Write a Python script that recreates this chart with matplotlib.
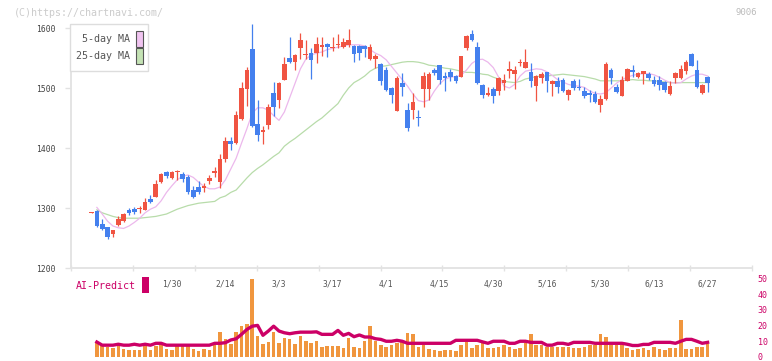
import matplotlib
matplotlib.use('Agg')
import matplotlib.pyplot as plt
from matplotlib.patches import Rectangle
import numpy as np

plt.rcParams['font.family'] = ['DejaVu Sans Mono']

# 日足データ (始値, 高値, 安値, 終値)
opens = [1292, 1295, 1273, 1268, 1256, 1272, 1279, 1297, 1298, 1299,
         1297, 1315, 1319, 1343, 1360, 1350, 1360, 1357, 1351, 1330,
         1335, 1333, 1345, 1359, 1344, 1381, 1412, 1409, 1448, 1498,
         1565, 1440, 1426, 1438, 1492, 1480, 1513, 1550, 1544, 1567,
         1555, 1559, 1558, 1569, 1573, 1567, 1571, 1569, 1572, 1570,
         1570, 1570, 1548, 1549, 1540, 1530, 1500, 1462, 1509, 1463,
         1463, 1451, 1498, 1498, 1530, 1538, 1520, 1526, 1520, 1519,
         1566, 1590, 1568, 1505, 1488, 1498, 1495, 1509, 1529, 1523,
         1542, 1534, 1526, 1504, 1516, 1526, 1507, 1512, 1513, 1488,
         1511, 1501, 1495, 1491, 1490, 1471, 1482, 1530, 1502, 1486,
         1512, 1530, 1519, 1524, 1523, 1514, 1513, 1510, 1490, 1516,
         1516, 1529, 1557, 1530, 1491, 1519]
highs = [1293, 1296, 1281, 1269, 1264, 1286, 1292, 1300, 1302, 1304,
         1316, 1322, 1347, 1359, 1362, 1362, 1364, 1360, 1355, 1336,
         1345, 1342, 1355, 1369, 1390, 1418, 1419, 1462, 1510, 1535,
         1607, 1480, 1436, 1473, 1510, 1510, 1551, 1585, 1556, 1591,
         1580, 1566, 1585, 1585, 1575, 1585, 1590, 1584, 1598, 1571,
         1571, 1571, 1573, 1556, 1541, 1535, 1501, 1520, 1525, 1475,
         1491, 1463, 1527, 1527, 1534, 1539, 1527, 1531, 1522, 1554,
         1588, 1597, 1576, 1506, 1501, 1502, 1518, 1523, 1545, 1536,
         1548, 1565, 1542, 1521, 1527, 1527, 1513, 1519, 1516, 1498,
         1515, 1515, 1501, 1497, 1495, 1488, 1544, 1533, 1507, 1520,
         1534, 1538, 1527, 1529, 1526, 1520, 1520, 1511, 1511, 1526,
         1538, 1547, 1559, 1547, 1506, 1520]
lows = [1292, 1269, 1264, 1248, 1252, 1270, 1277, 1288, 1290, 1291,
        1296, 1309, 1318, 1342, 1350, 1349, 1346, 1344, 1323, 1316,
        1324, 1327, 1340, 1352, 1334, 1376, 1397, 1406, 1447, 1470,
        1435, 1411, 1407, 1431, 1453, 1466, 1513, 1542, 1530, 1549,
        1549, 1515, 1542, 1553, 1552, 1561, 1566, 1567, 1569, 1544,
        1546, 1551, 1547, 1534, 1505, 1495, 1475, 1462, 1487, 1429,
        1448, 1436, 1469, 1480, 1522, 1507, 1495, 1512, 1508, 1518,
        1563, 1578, 1507, 1484, 1486, 1475, 1488, 1497, 1516, 1499,
        1536, 1533, 1502, 1478, 1509, 1494, 1486, 1491, 1493, 1480,
        1497, 1497, 1484, 1476, 1475, 1460, 1480, 1507, 1492, 1486,
        1511, 1519, 1516, 1507, 1513, 1503, 1497, 1494, 1488, 1509,
        1515, 1523, 1536, 1500, 1490, 1494]
closes = [1293, 1270, 1265, 1251, 1263, 1282, 1290, 1291, 1293, 1300,
          1310, 1310, 1340, 1357, 1353, 1360, 1361, 1349, 1326, 1319,
          1326, 1337, 1350, 1362, 1382, 1412, 1406, 1455, 1500, 1530,
          1437, 1421, 1430, 1468, 1469, 1509, 1540, 1544, 1555, 1580,
          1557, 1547, 1574, 1571, 1568, 1569, 1572, 1576, 1580, 1557,
          1558, 1565, 1568, 1553, 1512, 1496, 1489, 1517, 1502, 1434,
          1477, 1450, 1520, 1524, 1525, 1513, 1516, 1518, 1512, 1553,
          1587, 1580, 1509, 1488, 1491, 1486, 1516, 1513, 1531, 1530,
          1543, 1543, 1512, 1520, 1523, 1512, 1511, 1501, 1495, 1497,
          1500, 1500, 1486, 1489, 1476, 1481, 1540, 1517, 1494, 1513,
          1532, 1527, 1525, 1528, 1516, 1507, 1505, 1497, 1503, 1525,
          1531, 1544, 1537, 1502, 1505, 1508]

nan = float('nan')
ma5 = [nan, 1301, 1290, 1278, 1270, 1267, 1266, 1270, 1276, 1283,
       1292, 1298, 1302, 1312, 1326, 1337, 1347, 1353, 1355, 1351,
       1343, 1336, 1332, 1332, 1335, 1347, 1365, 1383, 1408, 1432,
       1458, 1467, 1467, 1463, 1454, 1446, 1460, 1484, 1508, 1532,
       1548, 1555, 1558, 1560, 1564, 1566, 1568, 1570, 1572, 1572,
       1572, 1570, 1564, 1558, 1554, 1547, 1536, 1525, 1514, 1503,
       1490, 1479, 1477, 1480, 1495, 1507, 1515, 1518, 1519, 1521,
       1530, 1541, 1547, 1548, 1543, 1534, 1518, 1503, 1500, 1506,
       1520, 1528, 1530, 1532, 1531, 1527, 1521, 1514, 1510, 1506,
       1504, 1503, 1501, 1495, 1491, 1490, 1492, 1500, 1508, 1514,
       1518, 1521, 1523, 1524, 1524, 1522, 1518, 1513, 1509, 1508,
       1509, 1515, 1520, 1523, 1523, 1520]
ma25 = [nan, 1297, 1292, 1289, 1286, 1284, 1283, 1283, 1283, 1283,
        1284, 1285, 1286, 1288, 1290, 1294, 1298, 1301, 1304, 1306,
        1308, 1309, 1310, 1311, 1317, 1320, 1326, 1330, 1340, 1350,
        1359, 1366, 1372, 1379, 1386, 1392, 1403, 1410, 1416, 1423,
        1430, 1437, 1444, 1450, 1458, 1466, 1474, 1488, 1500, 1509,
        1514, 1520, 1528, 1533, 1536, 1537, 1539, 1541, 1543, 1544,
        1544, 1543, 1541, 1538, 1537, 1535, 1533, 1532, 1530, 1528,
        1526, 1526, 1525, 1523, 1522, 1518, 1515, 1511, 1510, 1509,
        1511, 1515, 1517, 1519, 1520, 1520, 1521, 1522, 1523, 1522,
        1521, 1520, 1519, 1517, 1515, 1512, 1512, 1512, 1512, 1512,
        1513, 1514, 1513, 1513, 1512, 1512, 1511, 1510, 1509, 1509,
        1509, 1509, 1509, 1509, 1509, 1509]

volume = [nan, 9.4, 7.4, 6.3, 5.5, 6.9, 4.8, 4.2, 4.2, 4.2,
          6.9, 4.2, 6.9, 8.0, 4.8, 4.2, 6.9, 6.9, 6.9, 4.8,
          3.6, 4.8, 4.2, 8.6, 15.5, 11.1, 8.4, 15.5, 19.3, 21.2,
          49.5, 13.0, 8.0, 9.4, 15.5, 8.6, 11.8, 11.1, 8.0, 13.0,
          9.9, 8.6, 9.9, 6.1, 6.7, 6.7, 6.7, 5.5, 11.8, 6.1,
          5.5, 9.9, 19.9, 9.9, 7.4, 6.1, 7.4, 8.6, 9.9, 14.9,
          14.3, 6.5, 7.4, 4.8, 4.2, 3.6, 4.2, 4.2, 3.6, 7.4,
          9.4, 5.9, 7.4, 9.4, 5.9, 5.7, 6.5, 7.4, 6.1, 4.8,
          5.3, 9.0, 14.3, 7.4, 7.4, 6.5, 6.5, 6.5, 6.5, 6.5,
          5.9, 5.3, 6.5, 7.4, 7.4, 14.3, 12.8, 7.4, 7.4, 7.4,
          5.9, 4.4, 4.8, 5.3, 4.4, 6.5, 4.8, 4.4, 5.7, 5.9,
          23.7, 4.8, 4.8, 6.1, 6.5, 8.0]
ai_predict = [nan, 9.4, 7.4, 7.4, 7.4, 8.0, 7.4, 7.4, 8.0, 7.4,
              8.0, 7.4, 8.6, 8.6, 7.4, 7.4, 7.4, 7.4, 7.4, 7.4,
              7.4, 7.4, 7.4, 8.6, 8.6, 9.0, 10.7, 11.5, 14.3, 17.4,
              19.5, 20.0, 13.7, 16.4, 19.5, 16.4, 15.3, 14.7, 15.3, 15.7,
              15.7, 15.7, 15.9, 14.3, 14.3, 14.3, 16.8, 13.7, 14.9, 12.8,
              13.9, 12.6, 12.6, 11.5, 11.1, 9.9, 9.9, 10.5, 9.9, 8.6,
              8.6, 8.6, 8.6, 8.6, 8.6, 8.6, 8.6, 8.6, 10.5, 10.5,
              10.5, 10.5, 10.5, 9.5, 8.6, 9.9, 9.9, 9.9, 8.6, 8.6,
              9.9, 9.9, 9.2, 9.2, 9.2, 7.4, 7.4, 8.6, 8.6, 7.9,
              9.2, 9.2, 9.2, 9.2, 8.6, 8.6, 8.6, 8.6, 8.6, 8.6,
              8.0, 7.2, 7.2, 7.9, 7.9, 9.2, 9.2, 9.2, 9.2, 8.6,
              9.9, 11.1, 11.1, 9.9, 8.6, 9.2]

date_labels = ['1/30', '2/14', '3/3', '3/17', '4/1', '4/15', '4/30', '5/16', '5/30', '6/13', '6/27']
date_pos = [16, 26, 36, 46, 56, 66, 76, 86, 96, 106, 116]

W, H = 772, 361
UP = '#f05442'
DOWN = '#4480ee'
AXC = '#e2e2e2'
AIC = '#cc0066'

x = np.arange(1, len(closes) + 1)
o = np.array(opens, float)
c = np.array(closes, float)
hi = np.array(highs, float)
lo = np.array(lows, float)
cols = [UP if cc >= oo else DOWN for oo, cc in zip(o, c)]

fig = plt.figure(figsize=(W / 100, H / 100), dpi=100)
xl = (-2.8265, 124.287)

# 出来高とAI予測 (下段)
ax2 = fig.add_axes([71 / W, 1 - 356.8 / H, 681 / W, 78.5 / H])
ax2.patch.set_visible(False)
ax2.bar(x, volume, width=0.66, color='#f0963e', zorder=1)
ax2.plot(x, ai_predict, color=AIC, lw=2.4, zorder=2)
ax2.set_xlim(*xl)
ax2.set_ylim(0, 50)
for s in ax2.spines.values():
    s.set_visible(False)
ax2.set_xticks([])
ax2.yaxis.tick_right()
ax2.set_yticks([0, 10, 20, 30, 40, 50])
ax2.tick_params(axis='y', length=0, pad=4, labelsize=6, labelcolor=AIC)

# 株価チャート (上段)
ax = fig.add_axes([71 / W, 1 - 268 / H, 681 / W, 243 / H])
ax.patch.set_visible(False)
ax.plot(x, ma25, color='#b8dcaa', lw=0.9, zorder=1)
ax.plot(x, ma5, color='#ecb8ec', lw=0.9, zorder=1)
ax.vlines(x, lo, hi, colors=cols, lw=0.9, zorder=2, clip_on=False)
body = np.maximum(np.abs(c - o), 1.6)
ax.bar(x, body, bottom=np.minimum(o, c), width=0.86, color=cols, zorder=3, clip_on=False)
ax.set_xlim(*xl)
ax.set_ylim(1200, 1605)
for s in ['top', 'right']:
    ax.spines[s].set_visible(False)
for s in ['left', 'bottom']:
    ax.spines[s].set_color(AXC)
    ax.spines[s].set_linewidth(1.3)
ax.set_yticks([1200, 1300, 1400, 1500, 1600])
ax.tick_params(axis='y', length=4, width=1, color=AXC, pad=7, labelsize=5.8, labelcolor='#444444')
ax.set_xticks(date_pos)
ax.set_xticklabels(date_labels)
ax.tick_params(axis='x', which='major', length=0, pad=8, labelsize=5.8, labelcolor='#555555')
ax.set_xticks(np.linspace(xl[0], xl[1], 12), minor=True)
ax.tick_params(axis='x', which='minor', length=5, width=1, color=AXC, direction='inout')

# テキスト類
fig.text(14 / W, 1 - 12.5 / H, '(C)https://chartnavi.com/', fontsize=7.2, color='#cccccc', va='center')
fig.text(757 / W, 1 - 12.5 / H, '9006', fontsize=6.4, color='#bbbbbb', va='center', ha='right')

# 凡例
fig.patches.append(Rectangle((70 / W, 1 - 71 / H), 78 / W, 47 / H, transform=fig.transFigure,
                             facecolor='white', edgecolor='#dddddd', lw=1, zorder=5))
fig.patches.append(Rectangle((136 / W, 1 - 46.5 / H), 6.5 / W, 15.5 / H, transform=fig.transFigure,
                             facecolor='#f0c4f0', edgecolor='#555555', lw=0.8, zorder=6))
fig.patches.append(Rectangle((136 / W, 1 - 63.5 / H), 6.5 / W, 15.5 / H, transform=fig.transFigure,
                             facecolor='#c4e2b4', edgecolor='#555555', lw=0.8, zorder=6))
fig.text(130 / W, 1 - 39 / H, '5-day MA', fontsize=7.2, color='#555555', ha='right', va='center', zorder=7)
fig.text(130 / W, 1 - 56 / H, '25-day MA', fontsize=7.2, color='#555555', ha='right', va='center', zorder=7)

fig.text(76 / W, 1 - 286 / H, 'AI-Predict', fontsize=7.2, color=AIC, va='center')
fig.patches.append(Rectangle((142.3 / W, 1 - 292.7 / H), 6.7 / W, 15.4 / H, transform=fig.transFigure,
                             facecolor=AIC, edgecolor='none'))

fig.savefig('out.png', dpi=100)
